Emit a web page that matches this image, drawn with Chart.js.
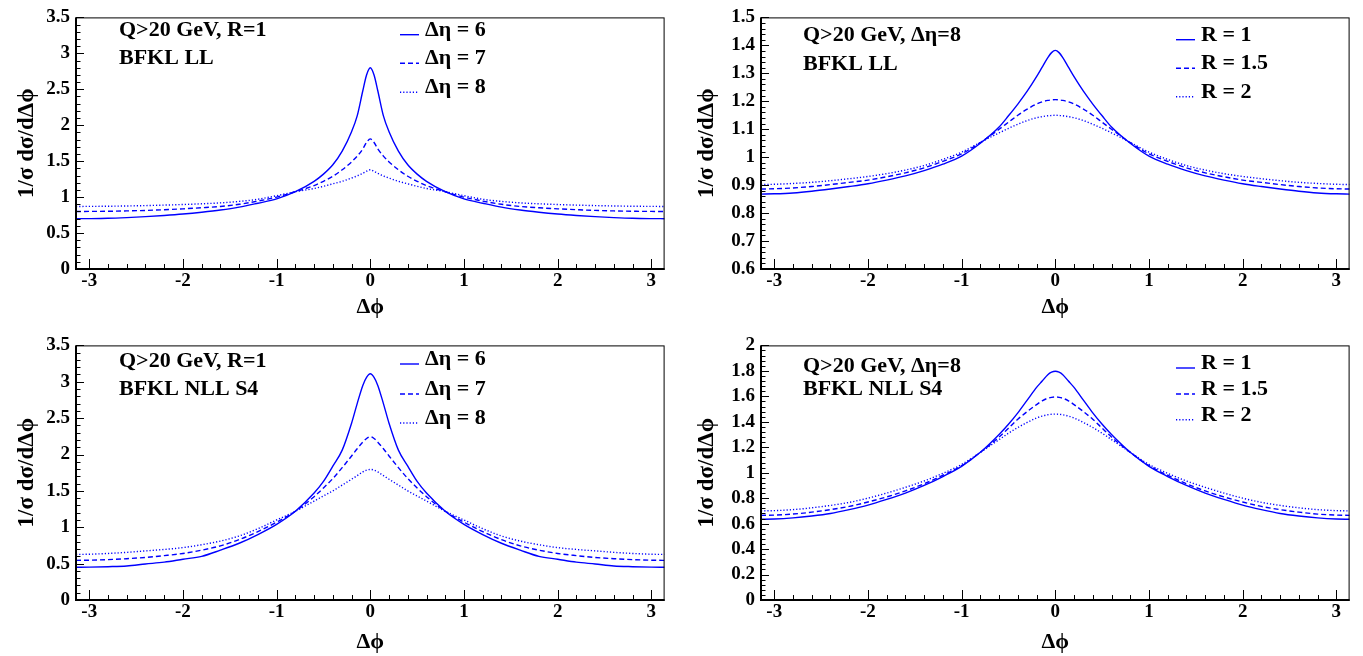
<!DOCTYPE html>
<html>
<head>
<meta charset="utf-8">
<script src="https://cdn.jsdelivr.net/npm/chart.js@4.4.1/dist/chart.umd.min.js"></script>
<style>
  body { margin: 0; background: #fff; }
  #wrap { position: relative; width: 1363px; height: 656px; overflow: hidden; }
  #wrap canvas { position: absolute; }
</style>
</head>
<body>
<div id="wrap">
  <canvas id="c1" width="680" height="328" style="left:0px;top:0px"></canvas>
  <canvas id="c2" width="683" height="328" style="left:680px;top:0px"></canvas>
  <canvas id="c3" width="680" height="328" style="left:0px;top:328px"></canvas>
  <canvas id="c4" width="683" height="328" style="left:680px;top:328px"></canvas>
</div>
<script>
// delta phi grid shared by all curves
const phi = [-3.1416, -3, -2.8, -2.6, -2.4, -2.2, -2, -1.8, -1.6, -1.4, -1.2, -1, -0.8, -0.6, -0.5, -0.4, -0.3, -0.2, -0.14, -0.08, -0.04,
  0, 0.04, 0.08, 0.14, 0.2, 0.3, 0.4, 0.5, 0.6, 0.8, 1, 1.2, 1.4, 1.6, 1.8, 2, 2.2, 2.4, 2.6, 2.8, 3, 3.1416];

// BFKL LL, R=1
const llEta6 = [0.700, 0.701, 0.705, 0.715, 0.728, 0.745, 0.765, 0.79, 0.82, 0.86, 0.915, 0.975, 1.075, 1.22, 1.32, 1.45, 1.64, 1.91, 2.13, 2.48, 2.70,
  2.80, 2.70, 2.48, 2.13, 1.91, 1.64, 1.45, 1.32, 1.22, 1.075, 0.975, 0.915, 0.86, 0.82, 0.79, 0.765, 0.745, 0.728, 0.715, 0.705, 0.701, 0.700];
const llEta7 = [0.800, 0.801, 0.803, 0.808, 0.815, 0.825, 0.837, 0.852, 0.87, 0.90, 0.945, 1.00, 1.075, 1.16, 1.22, 1.29, 1.38, 1.49, 1.57, 1.67, 1.76,
  1.81, 1.76, 1.67, 1.57, 1.49, 1.38, 1.29, 1.22, 1.16, 1.075, 1.00, 0.945, 0.90, 0.87, 0.852, 0.837, 0.825, 0.815, 0.808, 0.803, 0.801, 0.800];
const llEta8 = [0.870, 0.871, 0.873, 0.877, 0.882, 0.889, 0.897, 0.907, 0.92, 0.94, 0.97, 1.02, 1.075, 1.12, 1.15, 1.185, 1.22, 1.265, 1.295, 1.33, 1.36,
  1.38, 1.36, 1.33, 1.295, 1.265, 1.22, 1.185, 1.15, 1.12, 1.075, 1.02, 0.97, 0.94, 0.92, 0.907, 0.897, 0.889, 0.882, 0.877, 0.873, 0.871, 0.870];

// BFKL LL, delta eta = 8
const llR1 = [0.868, 0.869, 0.872, 0.878, 0.886, 0.895, 0.905, 0.918, 0.933, 0.952, 0.975, 1.004, 1.05, 1.108, 1.148, 1.19, 1.236, 1.288, 1.322, 1.356, 1.374,
  1.382, 1.374, 1.356, 1.322, 1.288, 1.236, 1.19, 1.148, 1.108, 1.05, 1.004, 0.975, 0.952, 0.933, 0.918, 0.905, 0.895, 0.886, 0.878, 0.872, 0.869, 0.868];
const llR15 = [0.886, 0.887, 0.89, 0.895, 0.902, 0.91, 0.918, 0.93, 0.944, 0.962, 0.985, 1.012, 1.052, 1.10, 1.125, 1.15, 1.172, 1.19, 1.198, 1.203, 1.205,
  1.206, 1.205, 1.203, 1.198, 1.19, 1.172, 1.15, 1.125, 1.10, 1.052, 1.012, 0.985, 0.962, 0.944, 0.93, 0.918, 0.91, 0.902, 0.895, 0.89, 0.887, 0.886];
const llR2 = [0.902, 0.903, 0.906, 0.91, 0.916, 0.923, 0.931, 0.941, 0.954, 0.97, 0.992, 1.018, 1.053, 1.087, 1.103, 1.118, 1.131, 1.141, 1.145, 1.148, 1.149,
  1.15, 1.149, 1.148, 1.145, 1.141, 1.131, 1.118, 1.103, 1.087, 1.053, 1.018, 0.992, 0.97, 0.954, 0.941, 0.931, 0.923, 0.916, 0.91, 0.906, 0.903, 0.902];

// BFKL NLL S4, R=1
const nllEta6 = [0.450, 0.452, 0.458, 0.468, 0.495, 0.52, 0.56, 0.60, 0.685, 0.78, 0.90, 1.04, 1.22, 1.47, 1.63, 1.84, 2.06, 2.43, 2.70, 2.95, 3.06,
  3.11, 3.06, 2.95, 2.70, 2.43, 2.06, 1.84, 1.63, 1.47, 1.22, 1.04, 0.90, 0.78, 0.685, 0.60, 0.56, 0.52, 0.495, 0.468, 0.458, 0.452, 0.450];
const nllEta7 = [0.545, 0.547, 0.555, 0.568, 0.585, 0.61, 0.64, 0.685, 0.745, 0.83, 0.94, 1.07, 1.22, 1.42, 1.54, 1.67, 1.82, 1.98, 2.08, 2.17, 2.22,
  2.245, 2.22, 2.17, 2.08, 1.98, 1.82, 1.67, 1.54, 1.42, 1.22, 1.07, 0.94, 0.83, 0.745, 0.685, 0.64, 0.61, 0.585, 0.568, 0.555, 0.547, 0.545];
const nllEta8 = [0.627, 0.629, 0.64, 0.655, 0.675, 0.695, 0.72, 0.76, 0.81, 0.88, 0.98, 1.10, 1.22, 1.36, 1.43, 1.50, 1.58, 1.66, 1.71, 1.76, 1.785,
  1.795, 1.785, 1.76, 1.71, 1.66, 1.58, 1.50, 1.43, 1.36, 1.22, 1.10, 0.98, 0.88, 0.81, 0.76, 0.72, 0.695, 0.675, 0.655, 0.64, 0.629, 0.627];

// BFKL NLL S4, delta eta = 8
const nllR1 = [0.634, 0.636, 0.645, 0.66, 0.68, 0.71, 0.745, 0.79, 0.84, 0.90, 0.97, 1.05, 1.16, 1.30, 1.38, 1.47, 1.57, 1.67, 1.72, 1.77, 1.79,
  1.797, 1.79, 1.77, 1.72, 1.67, 1.57, 1.47, 1.38, 1.30, 1.16, 1.05, 0.97, 0.90, 0.84, 0.79, 0.745, 0.71, 0.68, 0.66, 0.645, 0.636, 0.634];
const nllR15 = [0.665, 0.667, 0.675, 0.69, 0.71, 0.735, 0.77, 0.81, 0.857, 0.913, 0.98, 1.055, 1.16, 1.28, 1.35, 1.42, 1.48, 1.535, 1.565, 1.585, 1.592,
  1.595, 1.592, 1.585, 1.565, 1.535, 1.48, 1.42, 1.35, 1.28, 1.16, 1.055, 0.98, 0.913, 0.857, 0.81, 0.77, 0.735, 0.71, 0.69, 0.675, 0.667, 0.665];
const nllR2 = [0.70, 0.702, 0.71, 0.724, 0.743, 0.767, 0.80, 0.84, 0.885, 0.935, 0.995, 1.065, 1.16, 1.26, 1.31, 1.355, 1.395, 1.43, 1.445, 1.455, 1.459,
  1.46, 1.459, 1.455, 1.445, 1.43, 1.395, 1.355, 1.31, 1.26, 1.16, 1.065, 0.995, 0.935, 0.885, 0.84, 0.80, 0.767, 0.743, 0.724, 0.71, 0.702, 0.70];

const etaLabels = ['Δη = 6', 'Δη = 7', 'Δη = 8'];
const rLabels = ['R = 1', 'R = 1.5', 'R = 2'];

const xTicks = [-3, -2, -1, 0, 1, 2, 3];
const yTicks35 = [0, 0.5, 1, 1.5, 2, 2.5, 3, 3.5];
const yTicks15 = [0.6, 0.7, 0.8, 0.9, 1, 1.1, 1.2, 1.3, 1.4, 1.5];
const yTicks2 = [0, 0.2, 0.4, 0.6, 0.8, 1, 1.2, 1.4, 1.6, 1.8, 2];

const FONT = '"Liberation Serif", "Times New Roman", serif';
const BLUE = '#0000ff';
const lineStyles = [
    { borderDash: [], borderWidth: 1.4 },
    { borderDash: [5, 3], borderWidth: 1.4 },
    { borderDash: [1.2, 2], borderWidth: 1.4 }
];

// ROOT-like frame with inward major/minor ticks
const rootFrame = {
    id: 'rootFrame',
    afterDraw(chart, args, opts) {
        const ctx = chart.ctx;
        const a = chart.chartArea;
        const x = chart.scales.x, y = chart.scales.y;
        ctx.save();
        ctx.strokeStyle = '#000';
        ctx.lineWidth = 1;
        ctx.strokeRect(a.left, a.top + 0.5, a.right - a.left - 0.5, a.bottom - a.top);
        ctx.lineWidth = 2;
        ctx.beginPath();
        ctx.moveTo(a.left - 1, a.bottom);
        ctx.lineTo(a.right, a.bottom);
        ctx.moveTo(a.left, a.top);
        ctx.lineTo(a.left, a.bottom);
        ctx.stroke();

        ctx.lineWidth = 1;
        ctx.beginPath();
        for (let k = Math.ceil(x.min / opts.xMinor - 1e-9); k * opts.xMinor <= x.max + 1e-9; k++) {
            const v = k * opts.xMinor;
            const px = Math.round(x.getPixelForValue(v)) + 0.5;
            const major = Math.abs(v / opts.xMajor - Math.round(v / opts.xMajor)) < 1e-6;
            ctx.moveTo(px, a.bottom);
            ctx.lineTo(px, a.bottom - (major ? 10 : 5));
        }
        for (let k = Math.ceil(y.min / opts.yMinor - 1e-9); k * opts.yMinor <= y.max + 1e-9; k++) {
            const v = k * opts.yMinor;
            const py = Math.round(y.getPixelForValue(v)) + 0.5;
            const major = Math.abs(v / opts.yMajor - Math.round(v / opts.yMajor)) < 1e-6;
            ctx.moveTo(a.left, py);
            ctx.lineTo(a.left + (major ? 8 : 4.5), py);
        }
        ctx.stroke();
        ctx.restore();
    }
};

// caption text and legend drawn inside the frame
const panelText = {
    id: 'panelText',
    afterDraw(chart, args, opts) {
        const ctx = chart.ctx;
        ctx.save();
        ctx.fillStyle = '#000';
        ctx.font = 'bold 22px ' + FONT;
        ctx.textBaseline = 'alphabetic';
        opts.lines.forEach((t, i) => ctx.fillText(t, opts.x, opts.y[i]));
        chart.data.datasets.forEach((ds, i) => {
            const ly = opts.legendY[i];
            ctx.strokeStyle = ds.borderColor;
            ctx.lineWidth = ds.borderWidth;
            ctx.setLineDash(ds.borderDash);
            ctx.beginPath();
            ctx.moveTo(opts.legendX, ly - 1);
            ctx.lineTo(opts.legendX + 19, ly - 1);
            ctx.stroke();
            ctx.setLineDash([]);
            ctx.fillText(ds.label, opts.legendX + 25, ly);
        });
        ctx.restore();
    }
};

function makePanel(id, series, labels, yMin, yMax, yTicks, yMinor, panel) {
    const datasets = series.map((vals, i) => ({
        label: labels[i],
        data: phi.map((p, j) => ({ x: p, y: vals[j] })),
        borderColor: BLUE,
        borderWidth: lineStyles[i].borderWidth,
        borderDash: lineStyles[i].borderDash,
        pointRadius: 0,
        fill: false,
        cubicInterpolationMode: 'monotone'
    }));

    return new Chart(document.getElementById(id), {
        type: 'line',
        data: { datasets: datasets },
        plugins: [rootFrame, panelText],
        options: {
            responsive: false,
            animation: false,
            layout: { padding: { top: panel.top, right: panel.right, left: 0, bottom: 0 } },
            plugins: {
                legend: { display: false },
                tooltip: { enabled: false },
                rootFrame: { xMinor: 0.2, xMajor: 1, yMinor: yMinor, yMajor: yTicks[1] - yTicks[0] },
                panelText: panel.text
            },
            scales: {
                x: {
                    type: 'linear',
                    min: -Math.PI,
                    max: Math.PI,
                    afterBuildTicks: (axis) => { axis.ticks = xTicks.map(v => ({ value: v })); },
                    afterFit: (s) => { s.height = panel.xHeight; },
                    grid: { display: false, drawTicks: false },
                    border: { display: false },
                    ticks: {
                        autoSkip: false, maxRotation: 0, padding: 1, color: '#000',
                        font: { family: FONT, size: 19, weight: 'bold' },
                        callback: (v) => String(v)
                    },
                    title: {
                        display: true, text: 'Δϕ', color: '#000',
                        font: { family: FONT, size: 22, weight: 'bold' },
                        padding: { top: 0, bottom: panel.xTitlePad }
                    }
                },
                y: {
                    type: 'linear',
                    min: yMin,
                    max: yMax,
                    afterBuildTicks: (axis) => { axis.ticks = yTicks.map(v => ({ value: v })); },
                    afterFit: (s) => { s.width = panel.yWidth; },
                    grid: { display: false, drawTicks: false },
                    border: { display: false },
                    ticks: {
                        autoSkip: false, padding: 6, color: '#000',
                        font: { family: FONT, size: 19, weight: 'bold' },
                        callback: (v) => String(v)
                    },
                    title: {
                        display: true, text: '1/σ dσ/dΔϕ', color: '#000',
                        font: { family: FONT, size: 23, weight: 'bold' },
                        padding: { top: 13, bottom: 0 }
                    }
                }
            }
        }
    });
}

makePanel('c1', [llEta6, llEta7, llEta8], etaLabels, 0, 3.5, yTicks35, 0.1, {
    top: 12, right: 15.4, xHeight: 59, yWidth: 76, xTitlePad: 7,
    text: { lines: ['Q>20 GeV, R=1', 'BFKL LL'], x: 119, y: [36, 64.3], legendX: 400, legendY: [35.7, 64.3, 93.3] }
});
makePanel('c2', [llR1, llR15, llR2], rLabels, 0.6, 1.5, yTicks15, 0.02, {
    top: 12, right: 13.4, xHeight: 59, yWidth: 81, xTitlePad: 7,
    text: { lines: ['Q>20 GeV, Δη=8', 'BFKL LL'], x: 123, y: [41.3, 70.3], legendX: 496, legendY: [40.7, 69.3, 97.7] }
});
makePanel('c3', [nllEta6, nllEta7, nllEta8], etaLabels, 0, 3.5, yTicks35, 0.1, {
    top: 15, right: 15.4, xHeight: 56, yWidth: 76, xTitlePad: 0,
    text: { lines: ['Q>20 GeV, R=1', 'BFKL NLL S4'], x: 119, y: [39, 67.3], legendX: 400, legendY: [37, 67, 96] }
});
makePanel('c4', [nllR1, nllR15, nllR2], rLabels, 0, 2, yTicks2, 0.04, {
    top: 15, right: 13.4, xHeight: 56, yWidth: 81, xTitlePad: 0,
    text: { lines: ['Q>20 GeV, Δη=8', 'BFKL NLL S4'], x: 123, y: [43.5, 67], legendX: 496, legendY: [41, 67, 92.7] }
});
</script>
</body>
</html>
